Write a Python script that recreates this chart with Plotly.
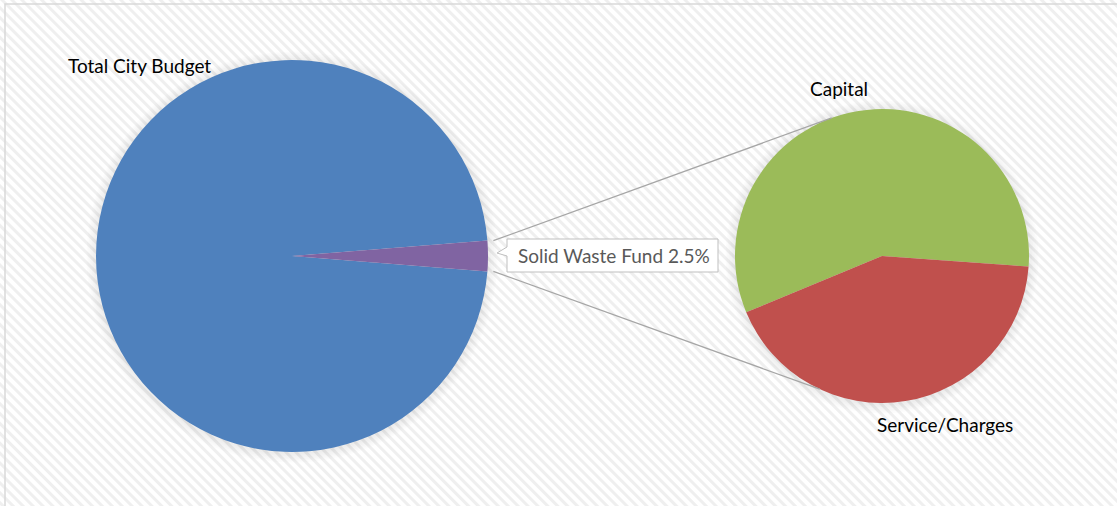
import math
from urllib.parse import quote
import plotly.graph_objects as go

# --- data -------------------------------------------------------------
main_labels = ["Total City Budget", "Solid Waste Fund"]
main_share = [97.5, 2.5]
main_colors = ["#4F81BD", "#8064A2"]

sub_labels = ["Capital", "Service/Charges"]
sub_share = [57.4, 42.6]
sub_colors = ["#9BBB59", "#C0504D"]

# --- canvas geometry (pixels) ----------------------------------------
W, H = 1117, 506
MAIN_C, MAIN_R = (292, 256), 196
SUB_C, SUB_R = (882, 256), 147
FONT = "Lato, Open Sans, sans-serif"


def px(x):
    return x / W


def py(y):
    return 1 - y / H


def dom(c, r):
    return dict(x=[px(c[0] - r), px(c[0] + r)], y=[py(c[1] + r), py(c[1] - r)])


# the small slice is centred on 3 o'clock
small_deg = 360 * main_share[1] / sum(main_share)
main_rotation = 90 + small_deg / 2

# sub pie: first slice starts lower-left and runs clockwise
sub_rotation = 247.5

fig = go.Figure()
fig.add_trace(go.Pie(
    labels=main_labels, values=main_share, sort=False, direction="clockwise",
    rotation=main_rotation, marker=dict(colors=main_colors, line=dict(width=0)),
    textinfo="none", domain=dom(MAIN_C, MAIN_R), showlegend=False,
))
fig.add_trace(go.Pie(
    labels=sub_labels, values=sub_share, sort=False, direction="clockwise",
    rotation=sub_rotation, marker=dict(colors=sub_colors, line=dict(width=0)),
    textinfo="none", domain=dom(SUB_C, SUB_R), showlegend=False,
))

shapes = []

# frame
shapes.append(dict(type="rect", xref="paper", yref="paper",
                   x0=px(5), y0=py(H + 5), x1=px(W + 5), y1=py(4),
                   line=dict(color="#D9D9D9", width=1.5), fillcolor="rgba(0,0,0,0)",
                   layer="below"))

# soft shadow halos behind both pies
for c, r in (MAIN_C, MAIN_R), (SUB_C, SUB_R):
    for k in range(1, 7):
        rr = r + k * 1.6
        shapes.append(dict(type="circle", xref="paper", yref="paper",
                           x0=px(c[0] - rr), x1=px(c[0] + rr),
                           y0=py(c[1] + 1 + rr), y1=py(c[1] + 1 - rr),
                           line=dict(width=0), fillcolor="rgba(0,0,0,0.011)",
                           layer="below"))

# connector lines from the small slice edges to the sub pie
half = math.radians(small_deg / 2)
edge_x = MAIN_C[0] + (MAIN_R + 6) * math.cos(half)
top_y = MAIN_C[1] - MAIN_R * math.sin(half)
bot_y = MAIN_C[1] + MAIN_R * math.sin(half)
for a, y0 in ((110, top_y), (-115, bot_y)):
    ex = SUB_C[0] + SUB_R * math.cos(math.radians(a))
    ey = SUB_C[1] - SUB_R * math.sin(math.radians(a))
    shapes.append(dict(type="line", xref="paper", yref="paper",
                       x0=px(edge_x), y0=py(y0), x1=px(ex), y1=py(ey),
                       line=dict(color="#A6A6A6", width=1.3)))

# callout box for the small slice
bx0, bx1, by0, by1 = 507, 718, 239, 272
tip = (497, 253)
path = (f"M {px(bx0)},{py(by0)} L {px(bx1)},{py(by0)} L {px(bx1)},{py(by1)} "
        f"L {px(bx0)},{py(by1)} L {px(bx0)},{py(256)} L {px(tip[0])},{py(tip[1])} "
        f"L {px(bx0)},{py(247)} Z")
shapes.append(dict(type="path", xref="paper", yref="paper", path=path,
                   fillcolor="white", line=dict(color="#BFBFBF", width=1)))

annotations = [
    dict(text="Total City Budget", x=px(139), y=py(65), font=dict(size=19, color="#000000")),
    dict(text="Capital", x=px(839), y=py(89), font=dict(size=19, color="#000000")),
    dict(text="Service/Charges", x=px(945), y=py(424), font=dict(size=19, color="#000000")),
    dict(text=f"Solid Waste Fund {main_share[1]}%", x=px((bx0 + bx1) / 2 + 1),
         y=py((by0 + by1) / 2), font=dict(size=19, color="#595959")),
]
for a in annotations:
    a.update(xref="paper", yref="paper", showarrow=False, xanchor="center", yanchor="middle")

# diagonal hatch background (stripes running top-left to bottom-right)
svg = (
    f"<svg xmlns='http://www.w3.org/2000/svg' width='{W}' height='{H}'>"
    "<defs><pattern id='p' width='7' height='7' patternUnits='userSpaceOnUse' "
    "patternTransform='rotate(-45)'><rect width='7' height='7' fill='#FFFFFF'/>"
    "<rect width='3' height='7' fill='#EFEFEF'/></pattern></defs>"
    f"<rect width='{W}' height='{H}' fill='url(#p)'/></svg>"
)
bg = "data:image/svg+xml;charset=utf-8," + quote(svg)

fig.update_layout(
    width=W, height=H, margin=dict(l=0, r=0, t=0, b=0),
    paper_bgcolor="white", plot_bgcolor="white",
    font=dict(family=FONT),
    shapes=shapes, annotations=annotations,
    images=[dict(source=bg, xref="paper", yref="paper", x=0, y=1, sizex=1, sizey=1,
                 sizing="stretch", layer="below", xanchor="left", yanchor="top")],
)

fig.write_html("out.html")
